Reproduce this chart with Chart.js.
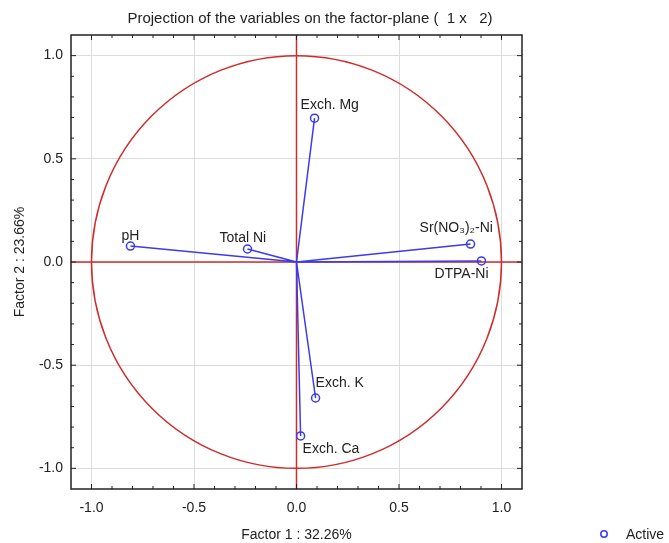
<!DOCTYPE html>
<html>
<head>
<meta charset="utf-8">
<script src="https://cdn.jsdelivr.net/npm/chart.js@4.4.1/dist/chart.umd.min.js"></script>
<style>
  html, body { margin: 0; padding: 0; background: #fff; }
  #wrap { width: 669px; height: 543px; }
</style>
</head>
<body>
<div id="wrap"><canvas id="grafica"></canvas></div>
<script>
// variables proyectadas en el plano factorial
const variables = ['Exch. Mg', 'pH', 'Total Ni', 'Sr(NO\u2083)\u2082-Ni', 'DTPA-Ni', 'Exch. K', 'Exch. Ca'];
const factor1 = [0.088, -0.810, -0.239, 0.849, 0.902, 0.093, 0.020];
const factor2 = [0.697, 0.077, 0.063, 0.087, 0.005, -0.659, -0.843];
const ticksEje = [-1.0, -0.5, 0.0, 0.5, 1.0];
const ticksMenores = [-1.0, -0.9, -0.8, -0.7, -0.6, -0.5, -0.4, -0.3, -0.2, -0.1, 0.0,
                      0.1, 0.2, 0.3, 0.4, 0.5, 0.6, 0.7, 0.8, 0.9, 1.0];

// desplazamiento de cada etiqueta respecto a su punto (px)
const etiquetaDx = [-14, -9, -28, -51, -47, 0, 2];
const etiquetaDy = [-13, -10, -11, -16, 13, -15, 13];

const FUENTE = '"Liberation Sans", Arial, sans-serif';
const AZUL = '#3b3bea';
const ROJO = '#d02c2c';

// lineas desde el origen hasta cada variable
const lineas = [];
for (let i = 0; i < variables.length; i++) {
    lineas.push({ x: 0, y: 0 });
    lineas.push({ x: factor1[i], y: factor2[i] });
    lineas.push({ x: NaN, y: NaN });
}
const puntos = factor1.map((v, i) => ({ x: v, y: factor2[i] }));

const decoracion = {
    id: 'decoracion',
    beforeDatasetsDraw(chart) {
        const { ctx, chartArea: a, scales: { x, y } } = chart;
        ctx.save();
        ctx.beginPath();
        ctx.rect(a.left, a.top, a.right - a.left, a.bottom - a.top);
        ctx.clip();
        ctx.strokeStyle = ROJO;
        ctx.lineWidth = 1.5;
        // circulo de correlacion
        const cx = x.getPixelForValue(0), cy = y.getPixelForValue(0);
        const rx = x.getPixelForValue(1) - cx, ry = cy - y.getPixelForValue(1);
        ctx.beginPath();
        ctx.ellipse(cx, cy, rx, ry, 0, 0, Math.PI * 2);
        ctx.stroke();
        // ejes en cero
        ctx.beginPath();
        ctx.moveTo(cx, a.top); ctx.lineTo(cx, a.bottom);
        ctx.moveTo(a.left, cy); ctx.lineTo(a.right, cy);
        ctx.stroke();
        ctx.restore();
    },
    afterDraw(chart) {
        const { ctx, chartArea: a, scales: { x, y } } = chart;
        ctx.save();
        // marco
        ctx.strokeStyle = '#222';
        ctx.lineWidth = 1.5;
        ctx.strokeRect(a.left, a.top, a.right - a.left, a.bottom - a.top);
        // marcas hacia dentro
        ctx.lineWidth = 1;
        ctx.beginPath();
        ticksMenores.forEach(v => {
            const mayor = ticksEje.some(t => Math.abs(t - v) < 1e-9);
            const len = mayor ? 5 : 3;
            const px = x.getPixelForValue(v), py = y.getPixelForValue(v);
            ctx.moveTo(px, a.bottom); ctx.lineTo(px, a.bottom - len);
            ctx.moveTo(px, a.top); ctx.lineTo(px, a.top + len);
            ctx.moveTo(a.left, py); ctx.lineTo(a.left + len, py);
            ctx.moveTo(a.right, py); ctx.lineTo(a.right - len, py);
        });
        ctx.stroke();

        // etiquetas de las variables
        ctx.fillStyle = '#222';
        ctx.font = '14px ' + FUENTE;
        ctx.textAlign = 'left';
        ctx.textBaseline = 'middle';
        variables.forEach((nombre, i) => {
            const px = x.getPixelForValue(factor1[i]);
            const py = y.getPixelForValue(factor2[i]);
            ctx.fillText(nombre, px + etiquetaDx[i], py + etiquetaDy[i]);
        });

        // titulo
        ctx.font = '15px ' + FUENTE;
        ctx.textAlign = 'center';
        ctx.fillText('Projection of the variables on the factor-plane (  1 x   2)', 310, 19);
        // titulos de ejes
        ctx.font = '14px ' + FUENTE;
        ctx.fillText('Factor 1 : 32.26%', (a.left + a.right) / 2, 535);
        ctx.save();
        ctx.translate(20, (a.top + a.bottom) / 2);
        ctx.rotate(-Math.PI / 2);
        ctx.fillText('Factor 2 : 23.66%', 0, 0);
        ctx.restore();

        // leyenda
        ctx.strokeStyle = AZUL;
        ctx.lineWidth = 1.5;
        ctx.beginPath();
        ctx.arc(604, 534, 3.2, 0, Math.PI * 2);
        ctx.stroke();
        ctx.textAlign = 'left';
        ctx.fillStyle = '#222';
        ctx.fillText('Active', 626, 535);
        ctx.restore();
    }
};

function ejeComun() {
    return {
        type: 'linear',
        min: -1.1,
        max: 1.1,
        afterBuildTicks: (s) => { s.ticks = ticksEje.map(v => ({ value: v })); },
        grid: { color: '#dcdcdc', lineWidth: 1, drawTicks: false },
        border: { display: false },
        ticks: {
            color: '#222',
            font: { family: FUENTE, size: 14 },
            callback: (v) => Number(v).toFixed(1)
        }
    };
}

const ejeX = ejeComun();
ejeX.ticks.padding = 11;
ejeX.afterFit = (s) => { s.height = 54; };
const ejeY = ejeComun();
ejeY.ticks.padding = 8;
ejeY.afterFit = (s) => { s.width = 71; };

new Chart(document.getElementById('grafica'), {
    type: 'scatter',
    data: {
        datasets: [{
            label: 'lineas',
            data: lineas,
            showLine: true,
            spanGaps: false,
            borderColor: AZUL,
            borderWidth: 1.5,
            pointRadius: 0
        }, {
            label: 'Active',
            data: puntos,
            borderColor: AZUL,
            backgroundColor: 'rgba(0,0,0,0)',
            borderWidth: 1.5,
            pointRadius: 4
        }]
    },
    options: {
        responsive: true,
        maintainAspectRatio: false,
        animation: false,
        layout: { padding: { left: 0, right: 147, top: 35, bottom: 0 } },
        plugins: { legend: { display: false }, tooltip: { enabled: false } },
        scales: { x: ejeX, y: ejeY }
    },
    plugins: [decoracion]
});
</script>
</body>
</html>
